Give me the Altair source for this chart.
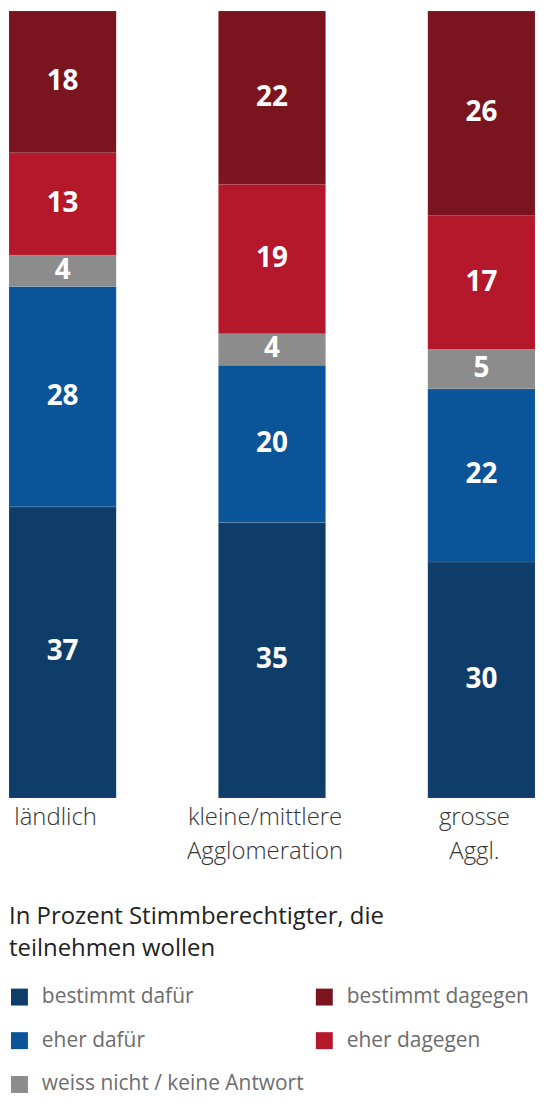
import altair as alt
import pandas as pd

# Gruppen (x-Achse), "|" = Zeilenumbruch in der Beschriftung
gruppen = ["ländlich", "kleine/mittlere|Agglomeration", "grosse|Aggl."]

# Antwortkategorien von unten nach oben gestapelt
antworten = ["bestimmt dafür", "eher dafür", "weiss nicht / keine Antwort",
             "eher dagegen", "bestimmt dagegen"]
farben = ["#0f3d6a", "#0a5499", "#8c8c8c", "#b5182b", "#7a141f"]

# Werte in Prozent je Gruppe
bestimmt_dafuer = [37, 35, 30]
eher_dafuer = [28, 20, 22]
weiss_nicht = [4, 4, 5]
eher_dagegen = [13, 19, 17]
bestimmt_dagegen = [18, 22, 26]

legenden_titel = ["In Prozent Stimmberechtigter, die", "teilnehmen wollen"]

reihen = [bestimmt_dafuer, eher_dafuer, weiss_nicht, eher_dagegen, bestimmt_dagegen]
zeilen = []
for rang, (antwort, werte) in enumerate(zip(antworten, reihen)):
    for gruppe, wert in zip(gruppen, werte):
        zeilen.append({"gruppe": gruppe, "antwort": antwort, "rang": rang, "wert": wert})
df = pd.DataFrame(zeilen)

# Legende wird spaltenweise gefüllt: links "dafür"/"weiss nicht", rechts "dagegen"
legenden_reihenfolge = [antworten[0], antworten[1], antworten[2], antworten[4], antworten[3]]
legenden_farben = [farben[0], farben[1], farben[2], farben[4], farben[3]]

schrift = "Open Sans"

basis = alt.Chart(df).transform_stack(
    stack="wert", groupby=["gruppe"], sort=[alt.SortField("rang")], as_=["y0", "y1"]
).transform_calculate(
    mitte="(datum.y0 + datum.y1) / 2"
)

x_achse = alt.X(
    "gruppe:N", sort=gruppen, title=None,
    scale=alt.Scale(paddingInner=0.488, paddingOuter=0),
    axis=alt.Axis(
        labelExpr="split(datum.label, '|')", labelAngle=0, labelFontSize=24,
        labelColor="#333333", labelPadding=8, labelLineHeight=34, labelFont=schrift,
        labelFontWeight=300, domain=False, ticks=False, labelOffset=-7,
    ),
)
y_skala = alt.Scale(domain=[0, 100], nice=False)

balken = basis.mark_bar(stroke="#ffffff", strokeOpacity=0.15, strokeWidth=0.6).encode(
    x=x_achse,
    y=alt.Y("y0:Q", scale=y_skala, axis=None),
    y2="y1:Q",
    color=alt.Color(
        "antwort:N",
        scale=alt.Scale(domain=legenden_reihenfolge, range=legenden_farben),
        legend=alt.Legend(
            title=legenden_titel, orient="none", legendX=0, legendY=897,
            columns=2, symbolType="square", symbolSize=289, symbolStrokeWidth=0,
            symbolOpacity=1, labelFontSize=21, labelColor="#6d6d6d", labelFont=schrift,
            labelLimit=400, labelOffset=12, titleFontSize=24, titleColor="#222222",
            titleFont=schrift, titleFontWeight="normal", titleLineHeight=33,
            titleLimit=600, titlePadding=25, rowPadding=22, columnPadding=10,
        ),
    ),
)

zahlen = basis.mark_text(
    color="white", fontSize=28, fontWeight="bold", font=schrift, baseline="middle"
).encode(
    x=alt.X("gruppe:N", sort=gruppen),
    y=alt.Y("mitte:Q", scale=y_skala),
    text="wert:Q",
)

chart = alt.layer(balken, zahlen).properties(
    width=528, height=790, padding=0
).configure_view(stroke=None)

chart.save("out.html", embed_options={"renderer": "svg", "actions": False})
